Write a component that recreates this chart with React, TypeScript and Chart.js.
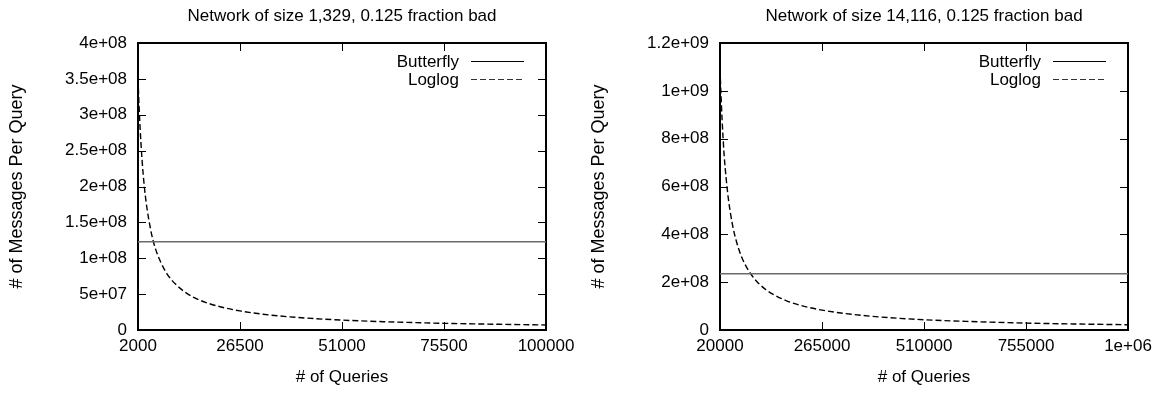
import React, { useEffect, useRef } from 'react';
import { Chart, registerables } from 'chart.js';

Chart.register(...registerables);

const FONT_FAMILY = "'Liberation Sans', Arial, sans-serif";

const seriesNames = ['Butterfly', 'Loglog'];
const xAxisTitle = '# of Queries';
const yAxisTitle = '# of Messages Per Query';

// ---------- Left panel ----------
const leftTitle = 'Network of size 1,329, 0.125 fraction bad';
const leftQueries = [2000, 2250, 2500, 3000, 3500, 4000, 5000, 5700, 6500, 7500, 9000, 11000, 13000, 15500, 19000, 23000, 26500, 32000, 40000, 51000, 62000, 75500, 88000, 100000];
const leftLoglog = [3.5e8, 3.13e8, 2.82e8, 2.35e8, 2.01e8, 1.76e8, 1.41e8, 1.23e8, 1.08e8, 9.4e7, 7.8e7, 6.4e7, 5.4e7, 4.5e7, 3.7e7, 3.06e7, 2.66e7, 2.2e7, 1.76e7, 1.38e7, 1.14e7, 9.3e6, 8.0e6, 7.0e6];
const leftButterflyQueries = [2000, 100000];
const leftButterfly = [1.23e8, 1.23e8];
const leftXTicks = [2000, 26500, 51000, 75500, 100000];
const leftXTickLabels = ['2000', '26500', '51000', '75500', '100000'];
const leftYTicks = [0, 5e7, 1e8, 1.5e8, 2e8, 2.5e8, 3e8, 3.5e8, 4e8];
const leftYTickLabels = ['0', '5e+07', '1e+08', '1.5e+08', '2e+08', '2.5e+08', '3e+08', '3.5e+08', '4e+08'];

// ---------- Right panel ----------
const rightTitle = 'Network of size 14,116, 0.125 fraction bad';
const rightQueries = [20000, 22500, 25000, 30000, 35000, 40000, 50000, 60000, 70000, 80000, 95000, 110000, 130000, 150000, 180000, 220000, 265000, 320000, 400000, 510000, 620000, 755000, 880000, 1000000];
const rightLoglog = [1.09e9, 9.8e8, 8.8e8, 7.3e8, 6.3e8, 5.5e8, 4.4e8, 3.67e8, 3.14e8, 2.75e8, 2.32e8, 2.0e8, 1.69e8, 1.47e8, 1.22e8, 1.0e8, 8.3e7, 6.9e7, 5.5e7, 4.3e7, 3.55e7, 2.9e7, 2.5e7, 2.2e7];
const rightButterflyQueries = [20000, 1000000];
const rightButterfly = [2.35e8, 2.35e8];
const rightXTicks = [20000, 265000, 510000, 755000, 1000000];
const rightXTickLabels = ['20000', '265000', '510000', '755000', '1e+06'];
const rightYTicks = [0, 2e8, 4e8, 6e8, 8e8, 1e9, 1.2e9];
const rightYTickLabels = ['0', '2e+08', '4e+08', '6e+08', '8e+08', '1e+09', '1.2e+09'];

type PanelProps = {
  title: string;
  queries: number[];
  loglog: number[];
  butterflyQueries: number[];
  butterfly: number[];
  xTicks: number[];
  xTickLabels: string[];
  yTicks: number[];
  yTickLabels: string[];
};

function Panel(p: PanelProps) {
  const ref = useRef<HTMLCanvasElement>(null);

  useEffect(() => {
    const canvas = ref.current;
    if (!canvas) return;

    const framePlugin = {
      id: 'gnuplotFrame',
      beforeDatasetsDraw(chart: any) {
        const { ctx, chartArea: a, scales } = chart;
        const xs = scales.x;
        const ys = scales.y;
        const T = 8;
        ctx.save();
        ctx.strokeStyle = '#000';
        ctx.lineWidth = 1;
        ctx.beginPath();
        for (const v of p.xTicks) {
          const px = Math.round(xs.getPixelForValue(v)) + 0.5;
          ctx.moveTo(px, a.bottom);
          ctx.lineTo(px, a.bottom - T);
          ctx.moveTo(px, a.top);
          ctx.lineTo(px, a.top + T);
        }
        for (const v of p.yTicks) {
          const py = Math.round(ys.getPixelForValue(v)) + 0.5;
          ctx.moveTo(a.left, py);
          ctx.lineTo(a.left + T, py);
          ctx.moveTo(a.right, py);
          ctx.lineTo(a.right - T, py);
        }
        ctx.stroke();
        ctx.lineWidth = 2;
        ctx.strokeRect(a.left, a.top, a.right - a.left, a.bottom - a.top);
        ctx.restore();
      },
      afterDraw(chart: any) {
        const { ctx, chartArea: a } = chart;
        ctx.save();
        ctx.fillStyle = '#000';
        ctx.font = `17px ${FONT_FAMILY}`;
        ctx.textAlign = 'center';
        ctx.textBaseline = 'middle';
        ctx.fillText(p.title, (a.left + a.right) / 2, 16);
        ctx.font = `17px ${FONT_FAMILY}`;
        ctx.textAlign = 'right';
        const rows = [a.top + 19, a.top + 37];
        seriesNames.forEach((name, i) => {
          ctx.fillStyle = '#000';
          ctx.fillText(name, a.left + 321, rows[i]);
          ctx.beginPath();
          ctx.lineWidth = i === 0 ? 1 : 1.2;
          ctx.strokeStyle = i === 0 ? '#000' : '#333';
          ctx.setLineDash(i === 0 ? [] : [6, 3]);
          const ly = Math.round(rows[i]) - 0.5;
          ctx.moveTo(a.left + 333, ly);
          ctx.lineTo(a.left + 386, ly);
          ctx.stroke();
        });
        ctx.restore();
      },
    };

    const chart = new Chart(canvas, {
      type: 'line',
      data: {
        datasets: [
          {
            label: seriesNames[0],
            data: p.butterflyQueries.map((q, i) => ({ x: q, y: p.butterfly[i] })),
            borderColor: '#6a6a6a',
            borderWidth: 1.6,
            pointRadius: 0,
            fill: false,
          },
          {
            label: seriesNames[1],
            data: p.queries.map((q, i) => ({ x: q, y: p.loglog[i] })),
            borderColor: '#000',
            borderWidth: 1.4,
            borderDash: [6, 3],
            pointRadius: 0,
            fill: false,
            cubicInterpolationMode: 'monotone',
          },
        ],
      },
      options: {
        responsive: false,
        animation: false,
        events: [],
        layout: { padding: { top: 43, right: 36, bottom: 0, left: 0 } },
        plugins: {
          legend: { display: false },
          title: { display: false },
          tooltip: { enabled: false },
        },
        scales: {
          x: {
            type: 'linear',
            min: p.xTicks[0],
            max: p.xTicks[p.xTicks.length - 1],
            afterBuildTicks: (s: any) => {
              s.ticks = p.xTicks.map((v) => ({ value: v }));
            },
            afterFit: (s: any) => {
              s.height = 64;
            },
            grid: { display: false, drawTicks: false },
            border: { display: false },
            ticks: {
              autoSkip: false,
              maxRotation: 0,
              padding: 6,
              color: '#000',
              font: { family: FONT_FAMILY, size: 17 },
              callback: (_v: any, i: number) => p.xTickLabels[i],
            },
            title: {
              display: true,
              text: xAxisTitle,
              color: '#000',
              font: { family: FONT_FAMILY, size: 17 },
              padding: { top: 0, bottom: 6.8 },
            },
          },
          y: {
            type: 'linear',
            min: p.yTicks[0],
            max: p.yTicks[p.yTicks.length - 1],
            afterBuildTicks: (s: any) => {
              s.ticks = p.yTicks.map((v) => ({ value: v }));
            },
            afterFit: (s: any) => {
              s.width = 138;
            },
            grid: { display: false, drawTicks: false },
            border: { display: false },
            ticks: {
              autoSkip: false,
              padding: 11,
              color: '#000',
              font: { family: FONT_FAMILY, size: 17 },
              callback: (_v: any, i: number) => p.yTickLabels[i],
            },
            title: {
              display: true,
              text: yAxisTitle,
              color: '#000',
              font: { family: FONT_FAMILY, size: 18 },
              padding: { top: 6.2, bottom: 0 },
            },
          },
        },
      },
      plugins: [framePlugin],
    } as any);

    return () => chart.destroy();
  }, []);

  return <canvas ref={ref} width={582} height={394} style={{ display: 'block' }} />;
}

export default function App() {
  return (
    <div style={{ position: 'absolute', left: 0, top: 0, width: 1164, height: 394, background: '#fff' }}>
      <div style={{ position: 'absolute', left: 0, top: 0 }}>
        <Panel
          title={leftTitle}
          queries={leftQueries}
          loglog={leftLoglog}
          butterflyQueries={leftButterflyQueries}
          butterfly={leftButterfly}
          xTicks={leftXTicks}
          xTickLabels={leftXTickLabels}
          yTicks={leftYTicks}
          yTickLabels={leftYTickLabels}
        />
      </div>
      <div style={{ position: 'absolute', left: 582, top: 0 }}>
        <Panel
          title={rightTitle}
          queries={rightQueries}
          loglog={rightLoglog}
          butterflyQueries={rightButterflyQueries}
          butterfly={rightButterfly}
          xTicks={rightXTicks}
          xTickLabels={rightXTickLabels}
          yTicks={rightYTicks}
          yTickLabels={rightYTickLabels}
        />
      </div>
    </div>
  );
}
